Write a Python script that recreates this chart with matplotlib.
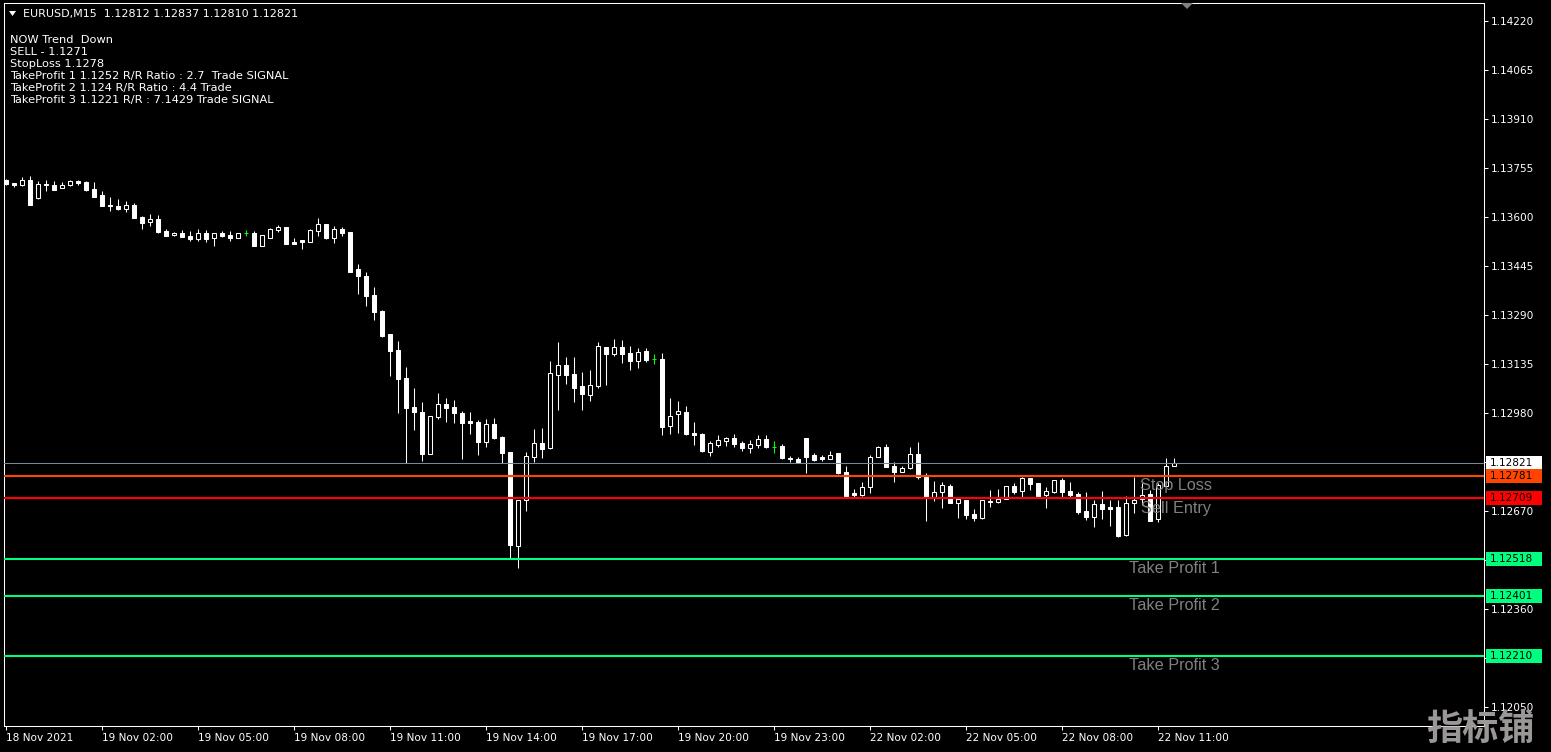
import numpy as np
import matplotlib
matplotlib.use("Agg")
import matplotlib.pyplot as plt
from matplotlib.patches import Rectangle, Polygon
from matplotlib.transforms import blended_transform_factory

# EURUSD M15 candles (open, high, low, close)
opens = [1.13717, 1.13707, 1.13702, 1.13717, 1.13660, 1.13703, 1.13701, 1.13690, 1.13702, 1.13714,
         1.13710, 1.13688, 1.13670, 1.13639, 1.13634, 1.13626, 1.13638, 1.13601, 1.13584, 1.13594,
         1.13555, 1.13542, 1.13550, 1.13539, 1.13531, 1.13549, 1.13532, 1.13549, 1.13542, 1.13534,
         1.13549, 1.13549, 1.13509, 1.13534, 1.13559, 1.13568, 1.13521, 1.13526, 1.13522, 1.13556,
         1.13578, 1.13534, 1.13563, 1.13552, 1.13434, 1.13413, 1.13353, 1.13302, 1.13229, 1.13179,
         1.13090, 1.12999, 1.12983, 1.12850, 1.12968, 1.13007, 1.12999, 1.12980, 1.12954, 1.12951,
         1.12888, 1.12943, 1.12903, 1.12856, 1.12559, 1.12704, 1.12839, 1.12883, 1.12869, 1.13100,
         1.13131, 1.13103, 1.13065, 1.13036, 1.13066, 1.13187, 1.13166, 1.13187, 1.13168, 1.13145,
         1.13175, 1.13149, 1.13150, 1.12939, 1.12975, 1.12983, 1.12915, 1.12913, 1.12857, 1.12879,
         1.12891, 1.12900, 1.12883, 1.12867, 1.12879, 1.12898, 1.12872, 1.12874, 1.12838, 1.12833,
         1.12900, 1.12846, 1.12839, 1.12834, 1.12851, 1.12791, 1.12725, 1.12720, 1.12744, 1.12841,
         1.12870, 1.12811, 1.12793, 1.12805, 1.12848, 1.12776, 1.12714, 1.12728, 1.12749, 1.12695,
         1.12705, 1.12660, 1.12646, 1.12701, 1.12697, 1.12708, 1.12749, 1.12732, 1.12774, 1.12758,
         1.12719, 1.12730, 1.12767, 1.12733, 1.12723, 1.12670, 1.12651, 1.12691, 1.12682, 1.12682,
         1.12592, 1.12693, 1.12707, 1.12724, 1.12642, 1.12749, 1.12812]
highs = [1.13720, 1.13707, 1.13725, 1.13729, 1.13714, 1.13717, 1.13714, 1.13709, 1.13718, 1.13718,
         1.13714, 1.13710, 1.13682, 1.13663, 1.13657, 1.13650, 1.13644, 1.13604, 1.13609, 1.13606,
         1.13563, 1.13553, 1.13558, 1.13555, 1.13563, 1.13558, 1.13549, 1.13555, 1.13555, 1.13549,
         1.13558, 1.13556, 1.13543, 1.13566, 1.13573, 1.13568, 1.13532, 1.13527, 1.13563, 1.13596,
         1.13578, 1.13571, 1.13567, 1.13552, 1.13451, 1.13425, 1.13378, 1.13305, 1.13229, 1.13207,
         1.13125, 1.13058, 1.13014, 1.12969, 1.13042, 1.13026, 1.13020, 1.12986, 1.12983, 1.12958,
         1.12960, 1.12964, 1.12907, 1.12856, 1.12704, 1.12856, 1.12929, 1.12932, 1.13144, 1.13204,
         1.13156, 1.13156, 1.13109, 1.13114, 1.13204, 1.13187, 1.13213, 1.13210, 1.13191, 1.13184,
         1.13186, 1.13166, 1.13168, 1.13026, 1.13017, 1.13001, 1.12951, 1.12915, 1.12890, 1.12908,
         1.12903, 1.12913, 1.12891, 1.12893, 1.12908, 1.12908, 1.12889, 1.12880, 1.12844, 1.12840,
         1.12900, 1.12853, 1.12846, 1.12858, 1.12851, 1.12811, 1.12737, 1.12761, 1.12845, 1.12874,
         1.12880, 1.12825, 1.12811, 1.12872, 1.12887, 1.12788, 1.12765, 1.12761, 1.12753, 1.12707,
         1.12705, 1.12676, 1.12703, 1.12735, 1.12739, 1.12748, 1.12757, 1.12777, 1.12774, 1.12758,
         1.12746, 1.12768, 1.12774, 1.12761, 1.12728, 1.12728, 1.12704, 1.12732, 1.12703, 1.12704,
         1.12716, 1.12778, 1.12758, 1.12735, 1.12757, 1.12836, 1.12837]
lows = [1.13701, 1.13695, 1.13699, 1.13639, 1.13656, 1.13683, 1.13686, 1.13690, 1.13699, 1.13702,
        1.13683, 1.13664, 1.13635, 1.13620, 1.13622, 1.13614, 1.13596, 1.13563, 1.13572, 1.13549,
        1.13540, 1.13538, 1.13537, 1.13525, 1.13525, 1.13522, 1.13509, 1.13536, 1.13525, 1.13533,
        1.13540, 1.13509, 1.13509, 1.13534, 1.13552, 1.13514, 1.13515, 1.13499, 1.13522, 1.13540,
        1.13529, 1.13518, 1.13540, 1.13426, 1.13356, 1.13318, 1.13274, 1.13221, 1.13097, 1.12980,
        1.12820, 1.12925, 1.12828, 1.12850, 1.12961, 1.12952, 1.12946, 1.12835, 1.12914, 1.12847,
        1.12872, 1.12898, 1.12822, 1.12518, 1.12489, 1.12670, 1.12824, 1.12837, 1.12866, 1.12989,
        1.13070, 1.13015, 1.12990, 1.13017, 1.13058, 1.13068, 1.13161, 1.13138, 1.13115, 1.13121,
        1.13141, 1.13133, 1.12911, 1.12914, 1.12916, 1.12910, 1.12879, 1.12856, 1.12843, 1.12871,
        1.12874, 1.12872, 1.12860, 1.12851, 1.12869, 1.12867, 1.12853, 1.12834, 1.12823, 1.12823,
        1.12790, 1.12828, 1.12828, 1.12833, 1.12786, 1.12712, 1.12712, 1.12716, 1.12727, 1.12840,
        1.12809, 1.12761, 1.12791, 1.12803, 1.12771, 1.12638, 1.12701, 1.12678, 1.12693, 1.12646,
        1.12644, 1.12638, 1.12644, 1.12681, 1.12693, 1.12707, 1.12722, 1.12711, 1.12735, 1.12715,
        1.12678, 1.12725, 1.12714, 1.12712, 1.12659, 1.12640, 1.12617, 1.12644, 1.12622, 1.12588,
        1.12590, 1.12663, 1.12688, 1.12637, 1.12635, 1.12748, 1.12810]
closes = [1.13704, 1.13701, 1.13716, 1.13639, 1.13704, 1.13700, 1.13686, 1.13701, 1.13714, 1.13707,
          1.13686, 1.13664, 1.13635, 1.13634, 1.13625, 1.13639, 1.13597, 1.13582, 1.13594, 1.13552,
          1.13540, 1.13550, 1.13537, 1.13531, 1.13549, 1.13531, 1.13549, 1.13540, 1.13533, 1.13549,
          1.13549, 1.13509, 1.13543, 1.13562, 1.13568, 1.13514, 1.13515, 1.13520, 1.13560, 1.13578,
          1.13532, 1.13562, 1.13548, 1.13426, 1.13412, 1.13349, 1.13300, 1.13223, 1.13175, 1.13087,
          1.12996, 1.12981, 1.12850, 1.12969, 1.13007, 1.12996, 1.12978, 1.12949, 1.12949, 1.12888,
          1.12943, 1.12901, 1.12852, 1.12561, 1.12704, 1.12843, 1.12883, 1.12866, 1.13106, 1.13131,
          1.13100, 1.13059, 1.13039, 1.13068, 1.13190, 1.13166, 1.13187, 1.13166, 1.13145, 1.13172,
          1.13148, 1.13149, 1.12936, 1.12971, 1.12985, 1.12913, 1.12910, 1.12859, 1.12883, 1.12894,
          1.12899, 1.12882, 1.12867, 1.12881, 1.12896, 1.12871, 1.12872, 1.12837, 1.12833, 1.12823,
          1.12841, 1.12830, 1.12833, 1.12847, 1.12788, 1.12716, 1.12719, 1.12744, 1.12840, 1.12870,
          1.12809, 1.12793, 1.12805, 1.12848, 1.12778, 1.12714, 1.12728, 1.12751, 1.12695, 1.12707,
          1.12656, 1.12647, 1.12703, 1.12697, 1.12706, 1.12748, 1.12730, 1.12774, 1.12755, 1.12716,
          1.12732, 1.12766, 1.12730, 1.12720, 1.12666, 1.12650, 1.12691, 1.12675, 1.12676, 1.12590,
          1.12693, 1.12704, 1.12720, 1.12638, 1.12751, 1.12811, 1.12821]

time_tick_bars = [0, 12, 24, 36, 48, 60, 72, 84, 96, 108, 120, 132, 144]
time_tick_labels = ["18 Nov 2021", "19 Nov 02:00", "19 Nov 05:00", "19 Nov 08:00", "19 Nov 11:00",
                    "19 Nov 14:00", "19 Nov 17:00", "19 Nov 20:00", "19 Nov 23:00", "22 Nov 02:00",
                    "22 Nov 05:00", "22 Nov 08:00", "22 Nov 11:00"]
price_ticks = [1.14220, 1.14065, 1.13910, 1.13755, 1.13600, 1.13445, 1.13290, 1.13135,
               1.12980, 1.12825, 1.12670, 1.12515, 1.12360, 1.12205, 1.12050]

# horizontal levels: bid, stop loss, sell entry, take profits
level_prices = [1.12821, 1.12781, 1.12709, 1.12518, 1.12401, 1.12210]
level_names = ["", "Stop Loss", "Sell Entry", "Take Profit 1", "Take Profit 2", "Take Profit 3"]

info_lines = ["NOW Trend  Down",
              "SELL - 1.1271",
              "StopLoss 1.1278",
              "TakeProfit 1 1.1252 R/R Ratio : 2.7  Trade SIGNAL",
              "TakeProfit 2 1.124 R/R Ratio : 4.4 Trade",
              "TakeProfit 3 1.1221 R/R : 7.1429 Trade SIGNAL"]

# styles
level_colors = ["#778899", "#FF4500", "#FF0000", "#00FF7F", "#00FF7F", "#00FF7F"]
level_widths = [0.75, 1.5, 1.5, 1.5, 1.5, 1.5]
box_colors = ["#FFFFFF", "#FF4500", "#FF0000", "#00FF7F", "#00FF7F", "#00FF7F"]
name_x = [0, 141.75, 141.9, 140.4, 140.4, 140.4]

W, H = 1551, 752
fig = plt.figure(figsize=(W / 100, H / 100), dpi=100, facecolor="black")
ax = fig.add_axes([4 / W, 1 - 726 / H, 1480 / W, 723 / H])
ax.set_facecolor("black")

o = np.array(opens)
hi = np.array(highs)
lo = np.array(lows)
c = np.array(closes)
x = np.arange(len(o))
up = c > o
down = c < o
doji = c == o

ax.vlines(x[~doji], lo[~doji], hi[~doji], color="white", lw=0.75, zorder=2)
ax.bar(x[down], o[down] - c[down], bottom=c[down], width=0.5,
       facecolor="white", edgecolor="white", lw=0.75, zorder=3)
ax.bar(x[up], c[up] - o[up], bottom=o[up], width=0.5,
       facecolor="black", edgecolor="white", lw=0.75, zorder=3)
ax.vlines(x[doji], lo[doji], hi[doji], color="#00FF00", lw=0.75, zorder=3)
ax.hlines(c[doji], x[doji] - 0.3, x[doji] + 0.3, color="#00FF00", lw=0.75, zorder=3)

for p, col, lw in zip(level_prices, level_colors, level_widths):
    ax.axhline(p, color=col, lw=lw, zorder=4)

for p, name, nx in zip(level_prices, level_names, name_x):
    if name:
        ax.annotate(name, xy=(nx, p), xytext=(0, -7.0), textcoords="offset points",
                    ha="left", va="center", color="#808080", fontsize=11.7,
                    family="Liberation Sans", zorder=5)

ax.set_xlim(-0.25, 184.75)
ax.set_ylim(1.119883, 1.142770)

ax.yaxis.tick_right()
ax.set_yticks(price_ticks)
ax.set_yticklabels([f"{p:.5f}" for p in price_ticks])
ax.set_xticks(time_tick_bars)
ax.set_xticklabels(time_tick_labels, ha="left")
ax.tick_params(colors="white", labelcolor="white", labelsize=7.6, length=3, width=0.75)
ax.tick_params(axis="y", pad=2)
ax.tick_params(axis="x", pad=2)
for s in ax.spines.values():
    s.set_color("white")
    s.set_linewidth(0.75)

# price boxes on the right scale
bt = blended_transform_factory(fig.transFigure, ax.transData)
box_h = 14 * (1.142770 - 1.119883) / 723
for p, bc in zip(level_prices, box_colors):
    fig.add_artist(Rectangle((1486 / W, p - box_h / 2), 56 / W, box_h, transform=bt,
                             facecolor=bc, edgecolor="none", zorder=5))
    fig.text(1490 / W, p, f"{p:.5f}", transform=bt, color="black", fontsize=7.6,
             ha="left", va="center", zorder=6)

# header and indicator text
fig.text(23 / W, 1 - 14 / H,
         f"EURUSD,M15  {opens[-1]:.5f} {highs[-1]:.5f} {lows[-1]:.5f} {closes[-1]:.5f}",
         color="white", fontsize=8, ha="left", va="center")
fig.add_artist(Polygon([[9 / W, 1 - 11 / H], [16 / W, 1 - 11 / H], [12.5 / W, 1 - 16 / H]],
                       closed=True, transform=fig.transFigure, facecolor="white", edgecolor="none"))
for k, line in enumerate(info_lines):
    fig.text(10 / W, 1 - (40 + 12 * k) / H, line, color="white", fontsize=8.2,
             ha="left", va="center")

# chart shift marker
fig.add_artist(Polygon([[1181 / W, 1 - 3 / H], [1193 / W, 1 - 3 / H], [1187 / W, 1 - 9 / H]],
                       closed=True, transform=fig.transFigure, facecolor="#808080", edgecolor="none"))

# watermark
fig.text(1480 / W, 1 - 729 / H, "指标铺", family=["Noto Sans CJK SC", "DejaVu Sans"],
         fontweight="bold", fontsize=26, color="#9b9797", ha="center", va="center", zorder=10)

fig.savefig("out.png", dpi=100, facecolor="black")
